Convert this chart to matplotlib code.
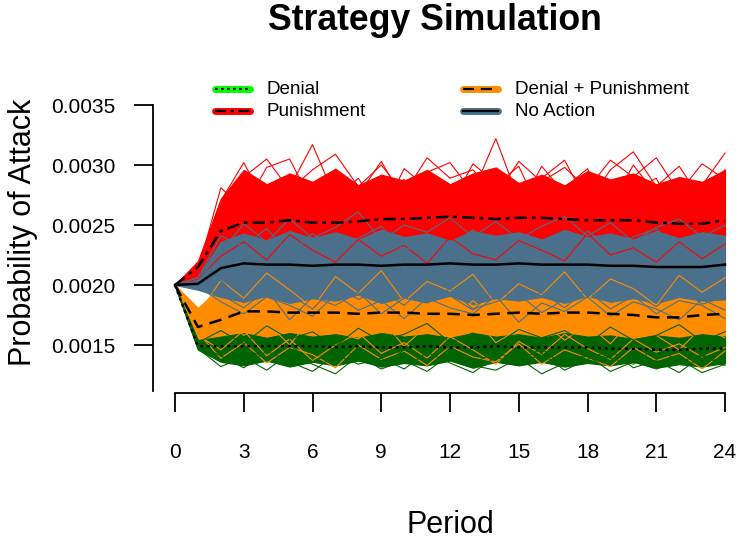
import numpy as np
import matplotlib.pyplot as plt
from matplotlib.lines import Line2D

plt.rcParams['font.family'] = ['Liberation Sans', 'DejaVu Sans']

periods = list(range(25))

# mean paths
mean_denial = [0.00200, 0.00149, 0.00149, 0.00149, 0.00149, 0.00149, 0.00149, 0.00148, 0.00149, 0.00148, 0.00148, 0.00149, 0.00148,
               0.00148, 0.00149, 0.00148, 0.00148, 0.00148, 0.00148, 0.00147, 0.00147, 0.00146, 0.00146, 0.00147, 0.00147]
mean_pun = [0.00200, 0.00215, 0.00245, 0.00252, 0.00252, 0.00254, 0.00252, 0.00252, 0.00253, 0.00255, 0.00255, 0.00256, 0.00257,
            0.00256, 0.00255, 0.00256, 0.00256, 0.00255, 0.00254, 0.00254, 0.00254, 0.00252, 0.00251, 0.00251, 0.00254]
mean_dp = [0.00200, 0.00165, 0.00171, 0.00178, 0.00178, 0.00177, 0.00177, 0.00177, 0.00176, 0.00177, 0.00177, 0.00176, 0.00176,
           0.00175, 0.00176, 0.00177, 0.00176, 0.00177, 0.00177, 0.00176, 0.00175, 0.00173, 0.00173, 0.00175, 0.00176]
mean_none = [0.00200, 0.00201, 0.00214, 0.00218, 0.00217, 0.00217, 0.00216, 0.00217, 0.00217, 0.00216, 0.00217, 0.00217, 0.00218,
             0.00217, 0.00217, 0.00218, 0.00217, 0.00217, 0.00217, 0.00216, 0.00216, 0.00215, 0.00215, 0.00215, 0.00217]

# dense core of the simulated paths (low / high edge per period)
red_lo = [0.00200, 0.00202, 0.00212, 0.00218, 0.00217, 0.00216, 0.00218, 0.00217, 0.00216, 0.00218, 0.00217, 0.00216, 0.00217,
          0.00218, 0.00216, 0.00217, 0.00218, 0.00216, 0.00217, 0.00218, 0.00216, 0.00217, 0.00216, 0.00217, 0.00218]
red_hi = [0.00200, 0.00220, 0.00272, 0.00296, 0.00284, 0.00293, 0.00286, 0.00297, 0.00283, 0.00292, 0.00287, 0.00296, 0.00284,
          0.00293, 0.00298, 0.00285, 0.00292, 0.00283, 0.00295, 0.00288, 0.00293, 0.00284, 0.00290, 0.00286, 0.00296]
blue_lo = [0.00200, 0.00196, 0.00190, 0.00186, 0.00191, 0.00185, 0.00189, 0.00187, 0.00192, 0.00185, 0.00190, 0.00186, 0.00191,
           0.00184, 0.00189, 0.00187, 0.00190, 0.00185, 0.00191, 0.00186, 0.00189, 0.00185, 0.00190, 0.00187, 0.00188]
blue_hi = [0.00200, 0.00207, 0.00236, 0.00243, 0.00237, 0.00245, 0.00239, 0.00244, 0.00238, 0.00246, 0.00240, 0.00243, 0.00237,
           0.00245, 0.00241, 0.00244, 0.00238, 0.00246, 0.00240, 0.00243, 0.00238, 0.00245, 0.00239, 0.00244, 0.00241]
orange_lo = [0.00200, 0.00155, 0.00144, 0.00141, 0.00145, 0.00140, 0.00144, 0.00141, 0.00145, 0.00140, 0.00143, 0.00141, 0.00145,
             0.00140, 0.00144, 0.00142, 0.00145, 0.00140, 0.00143, 0.00141, 0.00144, 0.00140, 0.00142, 0.00141, 0.00143]
orange_hi = [0.00200, 0.00181, 0.00198, 0.00203, 0.00199, 0.00205, 0.00198, 0.00204, 0.00200, 0.00203, 0.00198, 0.00205, 0.00199,
             0.00204, 0.00198, 0.00203, 0.00200, 0.00205, 0.00199, 0.00203, 0.00198, 0.00204, 0.00199, 0.00203, 0.00202]
green_lo = [0.00200, 0.00146, 0.00136, 0.00133, 0.00137, 0.00132, 0.00136, 0.00133, 0.00137, 0.00132, 0.00135, 0.00133, 0.00137,
            0.00131, 0.00136, 0.00133, 0.00136, 0.00132, 0.00135, 0.00133, 0.00136, 0.00131, 0.00134, 0.00132, 0.00135]
green_hi = [0.00200, 0.00154, 0.00157, 0.00160, 0.00156, 0.00160, 0.00157, 0.00159, 0.00156, 0.00160, 0.00157, 0.00159, 0.00156,
            0.00160, 0.00157, 0.00159, 0.00156, 0.00160, 0.00157, 0.00158, 0.00155, 0.00158, 0.00156, 0.00159, 0.00157]

# a few individual paths that stick out of the core
red_paths = [
    [0.00200, 0.00217, 0.00270, 0.00302, 0.00266, 0.00281, 0.00317, 0.00272, 0.00289, 0.00258, 0.00297, 0.00281, 0.00265,
     0.00301, 0.00285, 0.00262, 0.00299, 0.00276, 0.00290, 0.00266, 0.00300, 0.00275, 0.00262, 0.00283, 0.00310],
    [0.00200, 0.00212, 0.00281, 0.00264, 0.00298, 0.00305, 0.00268, 0.00296, 0.00275, 0.00303, 0.00270, 0.00294, 0.00302,
     0.00277, 0.00322, 0.00271, 0.00289, 0.00304, 0.00268, 0.00296, 0.00311, 0.00282, 0.00299, 0.00270, 0.00296],
    [0.00200, 0.00209, 0.00243, 0.00283, 0.00252, 0.00270, 0.00249, 0.00285, 0.00260, 0.00276, 0.00288, 0.00254, 0.00280,
     0.00262, 0.00283, 0.00299, 0.00258, 0.00281, 0.00297, 0.00255, 0.00278, 0.00289, 0.00253, 0.00277, 0.00290],
    [0.00200, 0.00205, 0.00224, 0.00236, 0.00221, 0.00242, 0.00229, 0.00219, 0.00238, 0.00224, 0.00233, 0.00218, 0.00240,
     0.00226, 0.00221, 0.00237, 0.00229, 0.00220, 0.00243, 0.00225, 0.00231, 0.00219, 0.00236, 0.00222, 0.00234],
    [0.00200, 0.00214, 0.00262, 0.00290, 0.00305, 0.00279, 0.00296, 0.00309, 0.00282, 0.00300, 0.00276, 0.00306, 0.00289,
     0.00296, 0.00274, 0.00303, 0.00286, 0.00298, 0.00280, 0.00304, 0.00290, 0.00306, 0.00277, 0.00301, 0.00288],
]
blue_paths = [
    [0.00200, 0.00203, 0.00228, 0.00251, 0.00236, 0.00255, 0.00239, 0.00248, 0.00261, 0.00237, 0.00250, 0.00244, 0.00256,
     0.00240, 0.00253, 0.00238, 0.00249, 0.00257, 0.00241, 0.00252, 0.00236, 0.00248, 0.00255, 0.00240, 0.00250],
    [0.00200, 0.00198, 0.00192, 0.00181, 0.00196, 0.00171, 0.00190, 0.00183, 0.00194, 0.00176, 0.00189, 0.00185, 0.00197,
     0.00180, 0.00186, 0.00192, 0.00177, 0.00188, 0.00195, 0.00180, 0.00191, 0.00176, 0.00187, 0.00183, 0.00172],
    [0.00200, 0.00200, 0.00204, 0.00185, 0.00201, 0.00192, 0.00180, 0.00199, 0.00188, 0.00196, 0.00183, 0.00200, 0.00191,
     0.00179, 0.00198, 0.00187, 0.00194, 0.00181, 0.00197, 0.00186, 0.00193, 0.00182, 0.00198, 0.00184, 0.00190],
    [0.00200, 0.00206, 0.00241, 0.00232, 0.00247, 0.00226, 0.00243, 0.00229, 0.00239, 0.00249, 0.00228, 0.00241, 0.00233,
     0.00246, 0.00230, 0.00242, 0.00235, 0.00227, 0.00245, 0.00231, 0.00240, 0.00247, 0.00229, 0.00243, 0.00236],
    [0.00200, 0.00199, 0.00186, 0.00176, 0.00190, 0.00183, 0.00174, 0.00192, 0.00179, 0.00187, 0.00172, 0.00189, 0.00181,
     0.00176, 0.00191, 0.00169, 0.00185, 0.00178, 0.00190, 0.00174, 0.00186, 0.00180, 0.00171, 0.00188, 0.00179],
]
orange_paths = [
    [0.00200, 0.00175, 0.00204, 0.00189, 0.00210, 0.00196, 0.00181, 0.00207, 0.00193, 0.00212, 0.00186, 0.00203, 0.00195,
     0.00209, 0.00184, 0.00201, 0.00192, 0.00211, 0.00188, 0.00205, 0.00197, 0.00183, 0.00208, 0.00194, 0.00206],
    [0.00200, 0.00158, 0.00146, 0.00162, 0.00141, 0.00155, 0.00137, 0.00150, 0.00160, 0.00143, 0.00152, 0.00139, 0.00157,
     0.00146, 0.00134, 0.00153, 0.00142, 0.00159, 0.00147, 0.00138, 0.00155, 0.00144, 0.00151, 0.00140, 0.00148],
    [0.00200, 0.00168, 0.00188, 0.00172, 0.00181, 0.00166, 0.00185, 0.00170, 0.00179, 0.00163, 0.00183, 0.00175, 0.00168,
     0.00187, 0.00171, 0.00180, 0.00165, 0.00184, 0.00173, 0.00178, 0.00164, 0.00182, 0.00169, 0.00177, 0.00186],
    [0.00200, 0.00162, 0.00177, 0.00158, 0.00169, 0.00150, 0.00173, 0.00161, 0.00155, 0.00171, 0.00149, 0.00166, 0.00157,
     0.00174, 0.00152, 0.00163, 0.00170, 0.00154, 0.00167, 0.00151, 0.00172, 0.00158, 0.00146, 0.00165, 0.00156],
    [0.00200, 0.00160, 0.00139, 0.00152, 0.00135, 0.00148, 0.00142, 0.00131, 0.00150, 0.00138, 0.00145, 0.00133, 0.00149,
     0.00140, 0.00136, 0.00151, 0.00134, 0.00146, 0.00139, 0.00132, 0.00148, 0.00137, 0.00143, 0.00130, 0.00145],
]
green_paths = [
    [0.00200, 0.00150, 0.00141, 0.00131, 0.00145, 0.00136, 0.00128, 0.00142, 0.00134, 0.00139, 0.00130, 0.00144, 0.00135,
     0.00127, 0.00140, 0.00133, 0.00143, 0.00129, 0.00138, 0.00146, 0.00131, 0.00137, 0.00127, 0.00141, 0.00133],
    [0.00200, 0.00152, 0.00162, 0.00151, 0.00166, 0.00155, 0.00161, 0.00149, 0.00164, 0.00153, 0.00159, 0.00168, 0.00152,
     0.00160, 0.00150, 0.00163, 0.00156, 0.00162, 0.00151, 0.00165, 0.00154, 0.00158, 0.00167, 0.00153, 0.00161],
    [0.00200, 0.00148, 0.00137, 0.00147, 0.00139, 0.00150, 0.00136, 0.00145, 0.00141, 0.00133, 0.00146, 0.00138, 0.00149,
     0.00135, 0.00144, 0.00137, 0.00147, 0.00132, 0.00143, 0.00139, 0.00134, 0.00148, 0.00136, 0.00142, 0.00135],
    [0.00200, 0.00147, 0.00132, 0.00140, 0.00129, 0.00143, 0.00134, 0.00126, 0.00141, 0.00130, 0.00137, 0.00128, 0.00142,
     0.00133, 0.00129, 0.00139, 0.00126, 0.00135, 0.00141, 0.00128, 0.00136, 0.00130, 0.00138, 0.00127, 0.00134],
]

labels = ['Denial', 'Punishment', 'Denial + Punishment', 'No Action']
RED, ORANGE, GREEN, BLUE = '#FF0000', '#FF8C00', '#006400', '#4A708B'

fig = plt.figure(figsize=(7.39, 5.39), dpi=100)
ax = fig.add_axes([153 / 739, 1 - 393 / 539, 594 / 739, 303 / 539])
ax.set_xlim(-0.96, 24.96)
ax.set_ylim(0.0011, 0.003625)

groups = [(red_lo, red_hi, red_paths, RED),
          (orange_lo, orange_hi, orange_paths, ORANGE),
          (green_lo, green_hi, green_paths, GREEN),
          (blue_lo, blue_hi, blue_paths, BLUE)]
for lo, hi, paths, col in groups:
    ax.fill_between(periods, lo, hi, color=col, lw=0.8, edgecolor=col)
for lo, hi, paths, col in groups:
    for p in paths:
        ax.plot(periods, p, color=col, lw=0.8)

ax.plot(periods, mean_denial, color='black', lw=1.8, dashes=(1.2, 1.5))
ax.plot(periods, mean_pun, color='black', lw=1.8, dashes=(5, 2, 1.5, 2))
ax.plot(periods, mean_dp, color='black', lw=1.8, dashes=(5, 3))
ax.plot(periods, mean_none, color='black', lw=1.8)

for s in ['top', 'right']:
    ax.spines[s].set_visible(False)
ax.spines['left'].set_bounds(0.00112, 0.0035)
ax.spines['bottom'].set_bounds(0, 24)
ax.spines['left'].set_linewidth(1.3)
ax.spines['bottom'].set_linewidth(1.3)
ax.set_xticks(range(0, 25, 3))
ax.set_yticks([0.0015, 0.0020, 0.0025, 0.0030, 0.0035])
ax.set_yticklabels(['0.0015', '0.0020', '0.0025', '0.0030', '0.0035'])
ax.tick_params(axis='x', length=14, width=1.3, pad=22, labelsize=15)
ax.tick_params(axis='y', length=14, width=1.3, pad=13, labelsize=15)

fig.text(435 / 739, 1 - 20 / 539, 'Strategy Simulation', fontsize=25.7, fontweight='bold',
         ha='center', va='center')
fig.text(450 / 739, 1 - 525 / 539, 'Period', fontsize=22, ha='center', va='center')
fig.text(23 / 739, 1 - 232 / 539, 'Probability of Attack', fontsize=22, rotation=90,
         ha='center', va='center')

# legend drawn by hand (coloured bar with black line on top)
leg = [(213, 89, '#00FF00', (1.2, 1.5), labels[0]),
       (213, 111, RED, (5, 2, 1.5, 2), labels[1]),
       (461, 89, ORANGE, (5, 3), labels[2]),
       (461, 111, BLUE, None, labels[3])]
for x0, y0, col, dash, lab in leg:
    xs = [(x0 + 2) / 739, (x0 + 37) / 739]
    ys = [1 - y0 / 539] * 2
    fig.add_artist(Line2D(xs, ys, color=col, lw=5, solid_capstyle='round'))
    black = Line2D(xs, ys, color='black', lw=1.6)
    if dash is not None:
        black.set_dashes(dash)
    fig.add_artist(black)
    fig.text((x0 + 54) / 739, 1 - y0 / 539, lab, fontsize=13.6, va='center', ha='left')

fig.savefig('out.png', dpi=100)
